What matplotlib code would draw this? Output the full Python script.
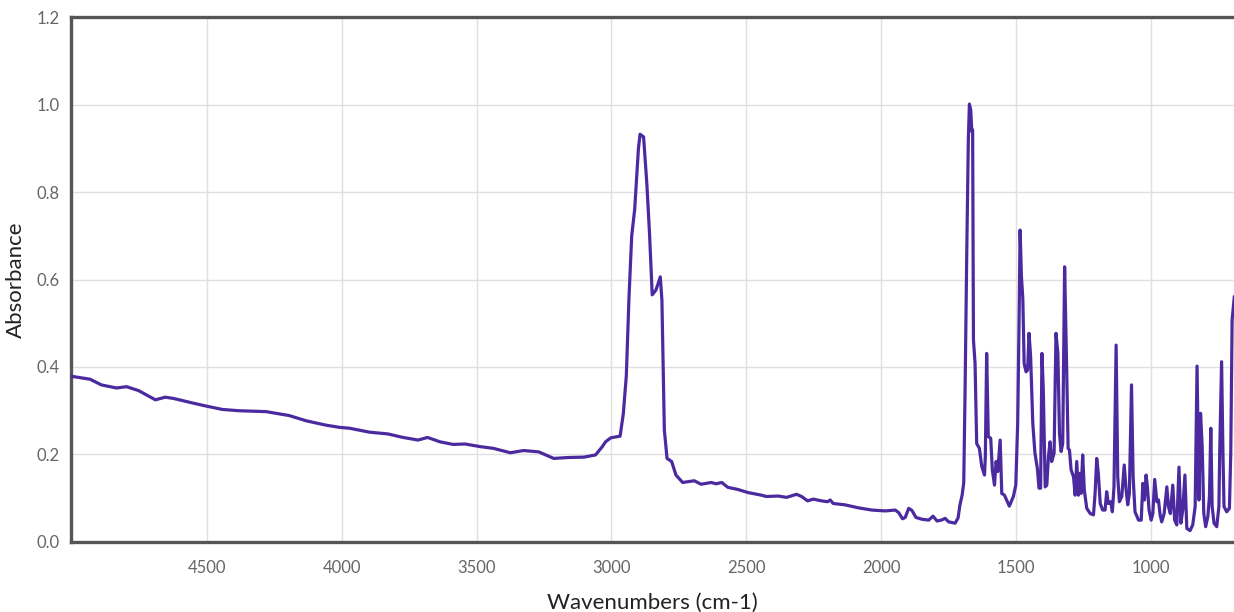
import matplotlib.pyplot as plt

plt.rcParams['font.family'] = ['Lato', 'DejaVu Sans']

# FTIR spectrum
wavenumbers = [
    5004, 4933, 4891, 4835, 4798, 4753, 4691, 4654, 4623, 4555, 4505, 4443,
    4381, 4281, 4195, 4132, 4058, 4008, 3971, 3897, 3829, 3773, 3717, 3682,
    3636, 3587, 3543, 3487, 3438, 3375, 3326, 3270, 3214, 3164, 3102, 3059,
    3034, 3022, 3003, 2968, 2956, 2945, 2935, 2925, 2914, 2900, 2894, 2881, 2869,
    2859, 2849, 2835, 2819, 2813, 2804, 2794, 2777, 2761, 2736, 2693, 2668,
    2630, 2612, 2591, 2569, 2531, 2494, 2444, 2426, 2382, 2351, 2314, 2295,
    2273, 2252, 2221, 2199, 2189, 2178, 2135, 2084, 2035, 1985, 1948, 1935,
    1921, 1911, 1898, 1886, 1871, 1849, 1824, 1808, 1793, 1777, 1763, 1750,
    1726, 1715, 1708, 1700, 1694, 1689, 1683, 1677, 1673, 1668, 1664, 1661,
    1658, 1652, 1646, 1636, 1627, 1617, 1614, 1609, 1603, 1594, 1588, 1580,
    1574, 1568, 1559, 1553, 1543, 1535, 1525, 1510, 1501, 1494, 1489, 1485,
    1480, 1475, 1470, 1463, 1457, 1452, 1446, 1438, 1430, 1421, 1415, 1409,
    1404, 1399, 1392, 1386, 1380, 1374, 1368, 1359, 1352, 1345, 1339, 1333,
    1327, 1320, 1313, 1307, 1302, 1296, 1287, 1281, 1275, 1269, 1263, 1259,
    1253, 1247, 1238, 1225, 1213, 1207, 1201, 1195, 1188, 1179, 1170, 1164,
    1158, 1149, 1143, 1137, 1129, 1123, 1117, 1108, 1099, 1092, 1086, 1080,
    1072, 1066, 1059, 1046, 1036, 1030, 1024, 1018, 1013, 1007, 999, 993,
    986, 978, 972, 966, 960, 951, 941, 935, 928, 919, 912, 904,
    896, 889, 882, 874, 867, 855, 845, 836, 829, 822, 816, 810,
    804, 797, 789, 783, 778, 773, 766, 756, 748, 745, 738, 733,
    729, 719, 709, 704, 699, 691,
]
absorbance = [
    0.379, 0.372, 0.359, 0.352, 0.355, 0.346, 0.325, 0.331, 0.328, 0.318, 0.311, 0.303,
    0.300, 0.298, 0.289, 0.277, 0.267, 0.262, 0.260, 0.251, 0.247, 0.239, 0.233, 0.239,
    0.229, 0.223, 0.224, 0.218, 0.214, 0.204, 0.209, 0.206, 0.191, 0.193, 0.194, 0.199,
    0.218, 0.229, 0.238, 0.242, 0.294, 0.380, 0.560, 0.700, 0.760, 0.900, 0.932, 0.926, 0.820,
    0.706, 0.565, 0.576, 0.606, 0.553, 0.256, 0.191, 0.184, 0.153, 0.136, 0.140, 0.132,
    0.136, 0.133, 0.136, 0.125, 0.120, 0.113, 0.107, 0.104, 0.105, 0.102, 0.109, 0.104,
    0.094, 0.098, 0.094, 0.092, 0.096, 0.088, 0.085, 0.078, 0.073, 0.071, 0.073, 0.067,
    0.053, 0.056, 0.077, 0.072, 0.056, 0.052, 0.050, 0.059, 0.048, 0.050, 0.054, 0.046,
    0.043, 0.055, 0.085, 0.107, 0.135, 0.347, 0.652, 0.919, 1.001, 0.987, 0.938, 0.942,
    0.462, 0.408, 0.225, 0.214, 0.172, 0.153, 0.195, 0.431, 0.241, 0.237, 0.165, 0.130,
    0.184, 0.161, 0.233, 0.111, 0.107, 0.096, 0.082, 0.104, 0.130, 0.271, 0.500, 0.713,
    0.606, 0.557, 0.408, 0.389, 0.393, 0.477, 0.424, 0.271, 0.203, 0.168, 0.123, 0.123,
    0.431, 0.347, 0.126, 0.130, 0.195, 0.229, 0.184, 0.203, 0.477, 0.431, 0.248, 0.207,
    0.225, 0.629, 0.416, 0.214, 0.210, 0.165, 0.149, 0.107, 0.184, 0.107, 0.157, 0.111,
    0.199, 0.119, 0.077, 0.065, 0.062, 0.111, 0.191, 0.157, 0.088, 0.073, 0.073, 0.115,
    0.088, 0.092, 0.069, 0.126, 0.450, 0.149, 0.092, 0.104, 0.176, 0.119, 0.085, 0.111,
    0.359, 0.149, 0.069, 0.050, 0.050, 0.134, 0.096, 0.153, 0.126, 0.073, 0.050, 0.065,
    0.143, 0.092, 0.096, 0.062, 0.046, 0.065, 0.126, 0.081, 0.065, 0.130, 0.050, 0.039,
    0.171, 0.043, 0.073, 0.153, 0.031, 0.026, 0.039, 0.081, 0.402, 0.096, 0.294, 0.218,
    0.065, 0.035, 0.058, 0.104, 0.260, 0.081, 0.043, 0.035, 0.081, 0.203, 0.412, 0.203,
    0.081, 0.069, 0.077, 0.203, 0.507, 0.560,
]

x_ticks = [4500, 4000, 3500, 3000, 2500, 2000, 1500, 1000]
y_ticks = [0.0, 0.2, 0.4, 0.6, 0.8, 1.0, 1.2]

fig = plt.figure(figsize=(12.34, 6.12), dpi=100)
ax = fig.add_axes([0.0575, 0.1144, 0.9425, 0.8578])

ax.plot(wavenumbers, absorbance, color='#4b2aa0', linewidth=2.3,
        solid_joinstyle='round', zorder=3)

ax.set_xlim(5004, 692)
ax.set_ylim(0, 1.2)
ax.set_xticks(x_ticks)
ax.set_yticks(y_ticks)
ax.set_yticklabels([f'{v:.1f}' for v in y_ticks])

ax.grid(True, color='#e0e0e0', linewidth=1.0)
ax.set_axisbelow(True)
ax.tick_params(length=0, colors='#666666', labelsize=12)
ax.tick_params(axis='x', pad=13)
ax.tick_params(axis='y', pad=8)

for side in ['left', 'bottom', 'top']:
    ax.spines[side].set_color('#555555')
    ax.spines[side].set_linewidth(2.4)
ax.spines['right'].set_visible(False)

ax.set_xlabel('Wavenumbers (cm-1)', fontsize=16, color='#222222', labelpad=12)
ax.set_ylabel('Absorbance', fontsize=16, color='#222222', labelpad=8)

fig.savefig('out.png', dpi=100)
